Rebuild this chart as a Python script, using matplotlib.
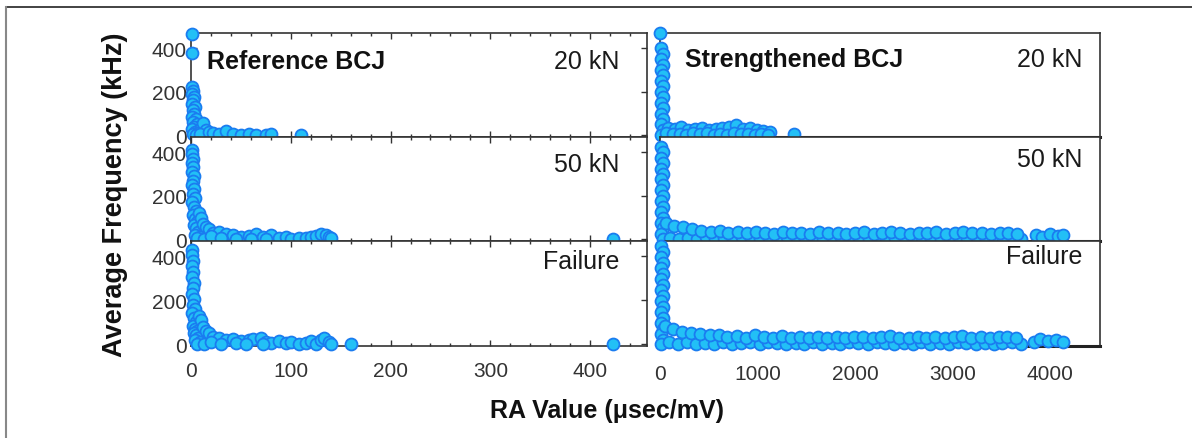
import numpy as np
import matplotlib
matplotlib.use('Agg')
import matplotlib.pyplot as plt
from matplotlib.lines import Line2D
from matplotlib.ticker import MultipleLocator

plt.rcParams['font.family'] = ['Liberation Sans', 'DejaVu Sans']

# ---- data (RA value, average frequency) ----
# Reference BCJ, 20 kN
ref20_x = [1, 1, 1, 2, 1, 3, 2, 1, 4, 2, 3, 1, 5, 2, 6, 3, 1, 8, 4, 2, 10, 7, 12, 5,
           15, 9, 18, 22, 28, 35, 42, 50, 58, 65, 75, 80, 110]
ref20_y = [465, 380, 220, 205, 190, 175, 160, 145, 130, 115, 100, 85, 75, 60, 50, 40,
           30, 25, 15, 5, 35, 10, 55, 0, 25, 5, 15, 10, 8, 20, 5, 3, 8, 2, 0, 4, 3]
# Reference BCJ, 50 kN
ref50_x = [1, 1, 2, 1, 2, 1, 3, 2, 1, 3, 2, 4, 1, 3, 5, 2, 4, 6, 3, 8, 5, 10, 7, 12, 4,
           15, 9, 18, 6, 22, 13, 28, 35, 20, 42, 50, 30, 58, 45, 65, 72, 60, 80, 88, 75,
           95, 100, 108, 115, 120, 125, 130, 135, 138, 140, 423]
ref50_y = [410, 390, 370, 350, 330, 310, 290, 270, 250, 230, 210, 190, 170, 150, 130,
           110, 95, 80, 65, 120, 50, 100, 35, 70, 20, 55, 10, 45, 5, 30, 0, 35, 25, 15,
           20, 10, 5, 15, 0, 25, 10, 3, 20, 5, 0, 10, 2, 5, 8, 12, 15, 25, 20, 10, 5, 0]
# Reference BCJ, failure
reff_x = [1, 1, 2, 1, 2, 1, 3, 2, 1, 3, 2, 4, 1, 3, 5, 2, 4, 6, 3, 8, 5, 10, 7, 12, 4,
          15, 9, 18, 6, 22, 13, 28, 35, 20, 42, 50, 30, 58, 45, 62, 70, 55, 75, 80, 88,
          72, 95, 100, 108, 115, 120, 125, 130, 133, 138, 140, 160, 423]
reff_y = [430, 405, 380, 355, 330, 305, 280, 255, 230, 205, 180, 160, 140, 120, 100,
          85, 70, 60, 50, 130, 40, 110, 30, 80, 20, 60, 10, 50, 0, 35, 0, 30, 20, 10, 25,
          15, 0, 20, 5, 25, 30, 0, 10, 5, 15, 0, 5, 10, 0, 5, 15, 0, 20, 30, 10, 0, 0, 0]

# Strengthened BCJ, 20 kN
str20_x = [0, 10, 30, 10, 30, 10, 30, 10, 30, 10, 30, 10, 30, 10, 30, 10, 30, 10,
           80, 150, 220, 290, 360, 430, 500, 570, 640, 710, 780, 850, 920, 990, 1060, 1130,
           60, 130, 200, 270, 340, 410, 480, 550, 620, 690, 760, 830, 900, 970, 1040, 1110,
           1370]
str20_y = [470, 400, 375, 350, 325, 300, 275, 250, 225, 200, 175, 150, 125, 100, 75, 50, 25, 0,
           35, 30, 40, 25, 30, 35, 25, 30, 35, 40, 45, 30, 35, 25, 20, 15,
           10, 5, 8, 0, 12, 5, 10, 3, 8, 0, 10, 5, 8, 2, 5, 0,
           5]
# Strengthened BCJ, 50 kN
str50_x = [10, 35, 10, 35, 10, 35, 10, 35, 10, 35, 10, 35, 10, 35, 10, 35, 10, 35,
           100, 190, 290, 380, 470, 560, 660, 750, 840, 930, 1030, 1120, 1210, 1300, 1400,
           1490, 1580, 1670, 1770, 1860, 1950, 2040, 2140, 2230, 2320, 2410, 2510, 2600,
           2690, 2780, 2880, 2970, 3060, 3150, 3250, 3340, 3430, 3520, 3620, 3700,
           60, 140, 240, 330, 420, 520, 610, 700, 800, 890, 980, 1080, 1170, 1260, 1350,
           1450, 1540, 1630, 1720, 1820, 1910, 2000, 2090, 2190, 2280, 2370, 2460, 2560,
           2650, 2740, 2830, 2930, 3020, 3110, 3200, 3300, 3390, 3480, 3570, 3660,
           3850, 3920, 4000, 4080, 4130]
str50_y = [425, 400, 375, 350, 325, 300, 275, 250, 225, 200, 175, 150, 125, 100, 75, 50, 25, 0,
           5, 0, 8, 3, 10, 0, 6, 2, 9, 4, 0, 7, 3, 10, 1, 5, 8, 0, 4, 9, 2, 6, 0, 8, 3, 5,
           10, 1, 7, 4, 0, 6, 9, 2, 5, 0, 8, 3, 6, 0,
           75, 60, 55, 45, 40, 35, 38, 30, 32, 28, 35, 30, 25, 32, 28, 30, 26, 33, 27, 30,
           25, 28, 32, 26, 30, 35, 28, 25, 30, 27, 32, 26, 29, 33, 27, 30, 25, 28, 31, 26,
           20, 10, 25, 15, 20]
# Strengthened BCJ, failure
strf_x = [10, 35, 10, 35, 10, 35, 10, 35, 10, 35, 10, 35, 10, 35, 10, 35, 10, 35, 10,
          90, 180, 280, 370, 460, 550, 650, 740, 830, 920, 1020, 1110, 1200, 1290, 1390,
          1480, 1570, 1660, 1760, 1850, 1940, 2030, 2130, 2220, 2310, 2400, 2500, 2590,
          2680, 2770, 2870, 2960, 3050, 3140, 3240, 3330, 3420, 3510, 3610, 3700,
          50, 130, 230, 320, 410, 510, 600, 690, 790, 880, 970, 1070, 1160, 1250, 1340,
          1440, 1530, 1620, 1710, 1810, 1900, 1990, 2080, 2180, 2270, 2360, 2450, 2550,
          2640, 2730, 2820, 2920, 3010, 3100, 3190, 3290, 3380, 3470, 3560, 3650,
          3830, 3900, 3980, 4060, 4130]
strf_y = [445, 420, 395, 370, 345, 320, 295, 270, 245, 220, 195, 170, 145, 120, 95, 70, 45, 20, 0,
          8, 2, 10, 0, 6, 3, 9, 0, 5, 8, 2, 10, 4, 0, 7, 3, 9, 1, 6, 0, 8, 4, 2, 10, 5,
          0, 7, 3, 9, 1, 6, 0, 8, 4, 2, 7, 0, 5, 9, 2,
          85, 70, 58, 50, 45, 40, 42, 35, 38, 30, 40, 33, 30, 36, 30, 34, 28, 32, 30, 34,
          28, 31, 35, 29, 33, 38, 30, 28, 33, 30, 35, 29, 32, 36, 30, 33, 28, 31, 34, 29,
          10, 25, 15, 20, 12]

left_panels = [(ref20_x, ref20_y, '20 kN'), (ref50_x, ref50_y, '50 kN'), (reff_x, reff_y, 'Failure')]
right_panels = [(str20_x, str20_y, '20 kN'), (str50_x, str50_y, '50 kN'), (strf_x, strf_y, 'Failure')]

W, H = 1192, 439
fig = plt.figure(figsize=(W / 100, H / 100), dpi=100)

face, edge, spine = '#22C0F6', '#1A7CF0', '#333333'
rows = [(34, 138), (138, 242), (242, 347)]
left_lab_y = [0.73, 0.74, 0.81]
right_lab_y = [0.75, 0.79, 0.86]


def px_axes(x0, x1, y0, y1):
    return fig.add_axes([x0 / W, 1 - y1 / H, (x1 - x0) / W, (y1 - y0) / H])


def scatter(ax, x, y):
    ax.plot(x, y, 'o', ms=8.6, mfc=face, mec=edge, mew=1.3, clip_on=False, zorder=3)


for i, ((ly, ry), (lx, lyv, lab), (rx, ryv, rlab)) in enumerate(zip(rows, left_panels, right_panels)):
    # left column: reference joint
    ax = px_axes(191, 647, ly, ry)
    scatter(ax, lx, lyv)
    ax.set_xlim(0, 457)
    ax.set_ylim(-8, 470)
    ax.set_yticks([0, 200, 400])
    ax.xaxis.set_major_locator(MultipleLocator(100))
    ax.xaxis.set_minor_locator(MultipleLocator(20))
    ax.tick_params(which='both', direction='in', top=True, right=True, colors=spine,
                   labelsize=15, labelcolor='#333333', length=4, width=1)
    ax.tick_params(which='minor', length=2.5)
    ax.tick_params(axis='y', pad=3)
    if i < 2:
        ax.tick_params(axis='x', labelbottom=False)
    else:
        ax.tick_params(axis='x', pad=11)
    for s in ax.spines.values():
        s.set_color(spine); s.set_linewidth(1.2)
    ax.text(0.94, left_lab_y[i], lab, transform=ax.transAxes, ha='right', va='center',
            fontsize=18, color='#1a1a1a')
    if i == 0:
        ax.text(0.035, 0.73, 'Reference BCJ', transform=ax.transAxes, ha='left', va='center',
                fontsize=18, fontweight='bold', color='#111111')

    # right column: strengthened joint
    ax = px_axes(660, 1100, ly, ry)
    scatter(ax, rx, ryv)
    ax.set_xlim(0, 4510)
    ax.set_ylim(-8, 470)
    ax.set_yticks([])
    ax.set_xticks([0, 1000, 2000, 3000, 4000])
    ax.tick_params(axis='x', length=0, labelsize=15, labelcolor='#333333', pad=13)
    if i < 2:
        ax.tick_params(axis='x', labelbottom=False)
    for s in ax.spines.values():
        s.set_color(spine); s.set_linewidth(1.2)
    ax.spines['bottom'].set_linewidth(2.2)
    ax.spines['bottom'].set_color('#222222')
    ax.text(0.96, right_lab_y[i], rlab, transform=ax.transAxes, ha='right', va='center',
            fontsize=18, color='#1a1a1a')
    if i == 0:
        ax.text(0.057, 0.75, 'Strengthened BCJ', transform=ax.transAxes, ha='left', va='center',
                fontsize=18, fontweight='bold', color='#111111')

fig.text(115 / W, 1 - 195 / H, 'Average Frequency (kHz)', rotation=90, ha='center', va='center',
         fontsize=19.5, fontweight='bold', color='#111111')
fig.text(607 / W, 1 - 411 / H, 'RA Value (\u03bcsec/mV)', ha='center', va='center',
         fontsize=18, fontweight='bold', color='#111111')

# outer frame (top and left edges only)
fig.add_artist(Line2D([6 / W, 1], [1 - 8 / H, 1 - 8 / H], transform=fig.transFigure,
                      color='#222222', lw=1.2))
fig.add_artist(Line2D([6 / W, 6 / W], [0, 1 - 8 / H], transform=fig.transFigure,
                      color='#888888', lw=1.5))

fig.savefig('out.png', dpi=100)
